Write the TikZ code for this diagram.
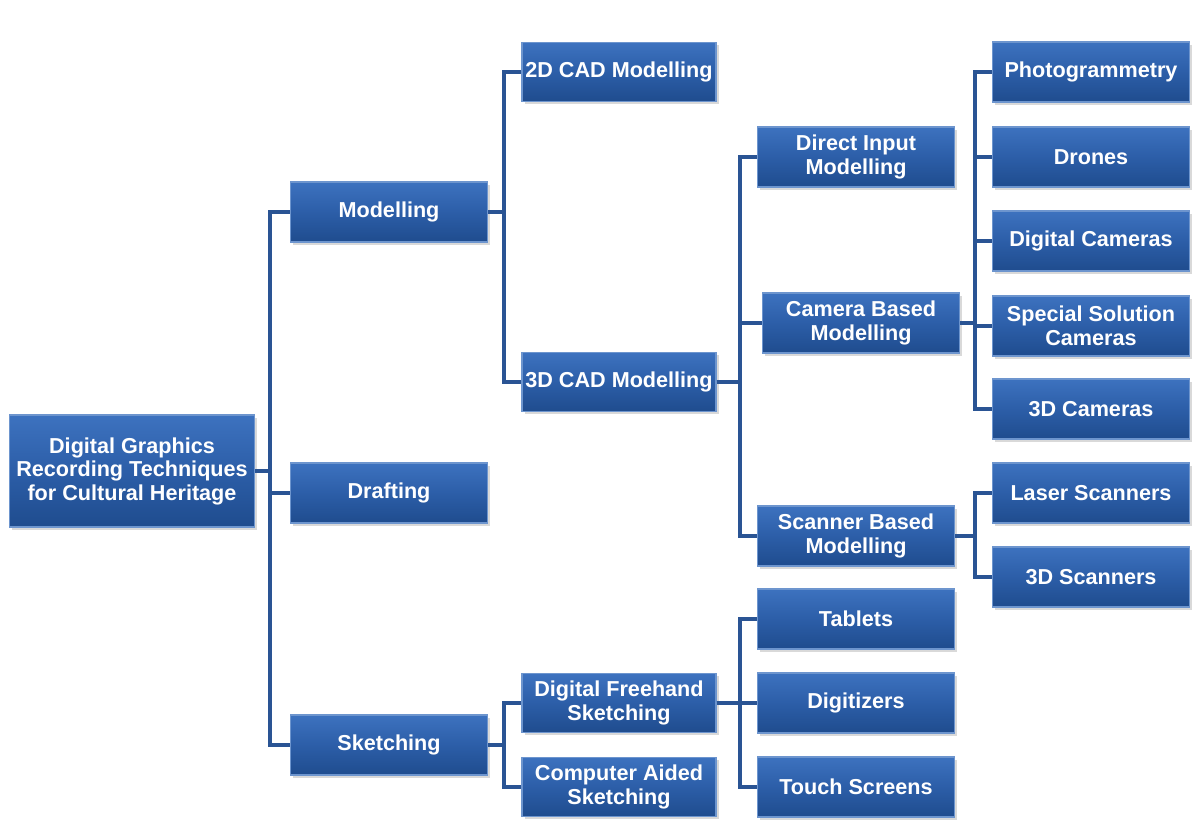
\documentclass[tikz,border=0pt]{standalone}
\usepackage{fontspec}
\setmainfont{Liberation Sans}
\usetikzlibrary{shadows}
\definecolor{boxtop}{HTML}{3D72BF}
\definecolor{boxmid}{HTML}{2C5EA8}
\definecolor{boxbot}{HTML}{1F4C8E}
\definecolor{boxedge}{HTML}{6D95CE}
\definecolor{linkblue}{HTML}{2A5494}
\tikzset{
  box/.style={rectangle, draw=boxedge, line width=0.8pt,
    top color=boxtop, bottom color=boxbot, middle color=boxmid,
    text=white, font=\bfseries\fontsize{12.3}{13.4}\selectfont, align=center,
    minimum width=3.94cm, minimum height=1.2cm, inner sep=1pt,
    drop shadow={opacity=0.3, shadow xshift=1.5pt, shadow yshift=-1.5pt}},
  rootbox/.style={box, minimum width=4.9cm, minimum height=2.24cm},
  midbox/.style={box, minimum width=3.88cm, minimum height=1.18cm},
  conn/.style={draw=linkblue, line width=2pt}
}
\begin{document}
\begin{tikzpicture}[x=0.02cm, y=-0.02cm]
\useasboundingbox (0,0) rectangle (1192,819);

% connectors are drawn first so the boxes cover their ends
\coordinate (j0) at (270,0);
\coordinate (j1) at (504,0);
\coordinate (j2) at (740,0);
\coordinate (j3) at (975,0);

% level 0 and 1
\node[rootbox] (root) at (132,471) {Digital Graphics\\Recording Techniques\\for Cultural Heritage};
\node[box] (mod) at (389,212) {Modelling};
\node[box] (draft) at (389,493) {Drafting};
\node[box] (sketch) at (389,745) {Sketching};

% level 2
\node[midbox] (cad2) at (619,72) {2D CAD Modelling};
\node[midbox] (cad3) at (619,382) {3D CAD Modelling};
\node[midbox] (dfs) at (619,703) {Digital Freehand\\Sketching};
\node[midbox] (cas) at (619,787) {Computer Aided\\Sketching};

% level 3
\node[box] (dim) at (856,157) {Direct Input\\Modelling};
\node[box] (cbm) at (861,323) {Camera Based\\Modelling};
\node[box] (sbm) at (856,536) {Scanner Based\\Modelling};
\node[box] (tab) at (856,619) {Tablets};
\node[box] (dig) at (856,703) {Digitizers};
\node[box] (tsc) at (856,787) {Touch Screens};

% level 4
\node[box] (pho) at (1091,72) {Photogrammetry};
\node[box] (dro) at (1091,157) {Drones};
\node[box] (dca) at (1091,241) {Digital Cameras};
\node[box] (ssc) at (1091,326) {Special Solution\\Cameras};
\node[box] (c3d) at (1091,409) {3D Cameras};
\node[box] (las) at (1091,493) {Laser Scanners};
\node[box] (s3d) at (1091,577) {3D Scanners};

% elbow connectors from each parent to its children
\foreach \c in {mod,draft,sketch}
  \draw[conn] (root.east) -- (root.east -| j0) |- (\c.west);
\foreach \c in {cad2,cad3}
  \draw[conn] (mod.east) -- (mod.east -| j1) |- (\c.west);
\foreach \c in {dfs,cas}
  \draw[conn] (sketch.east) -- (sketch.east -| j1) |- (\c.west);
\foreach \c in {dim,cbm,sbm}
  \draw[conn] (cad3.east) -- (cad3.east -| j2) |- (\c.west);
\foreach \c in {tab,dig,tsc}
  \draw[conn] (dfs.east) -- (dfs.east -| j2) |- (\c.west);
\foreach \c in {pho,dro,dca,ssc,c3d}
  \draw[conn] (cbm.east) -- (cbm.east -| j3) |- (\c.west);
\foreach \c in {las,s3d}
  \draw[conn] (sbm.east) -- (sbm.east -| j3) |- (\c.west);
\end{tikzpicture}
\end{document}
